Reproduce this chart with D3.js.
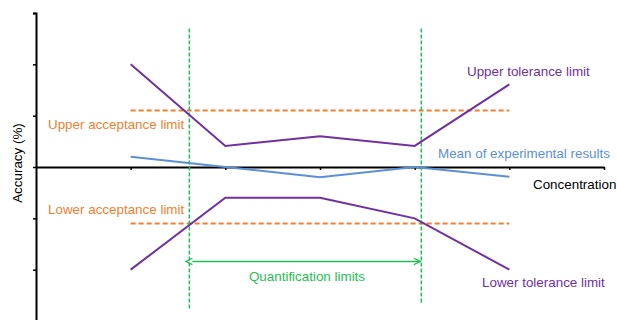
<!DOCTYPE html>
<html><head><meta charset="utf-8">
<script src="https://cdn.jsdelivr.net/npm/d3@7"></script>
<style>body{margin:0;background:#fff}svg{display:block}text{font-family:"Liberation Sans",Arial,sans-serif}</style>
</head><body><svg id="c" width="617" height="320"></svg>
<script>
const concentrations = [1, 2, 3, 4, 5];
const upperTolerance = [2.0, 0.41, 0.6, 0.41, 1.61];
const lowerTolerance = [-2.0, -0.6, -0.6, -1.0, -2.0];
const meanResults = [0.2, 0.0, -0.2, 0.0, -0.19];
const acceptanceLimits = [1.1, -1.1];
const quantificationLimits = [1.62, 4.07];
const xTicks = [1, 2, 3, 4, 5, 6];
const yTicks = [-3, -2, -1, 0, 1, 2, 3];

const C = {purple:"#7030a0", orange:"#f07f30", blue:"#5b90d8", green:"#1fbf55"};
const svg = d3.select("#c");
const x = d3.scaleLinear().domain([0, 6]).range([36, 604]);
const y = d3.scaleLinear().domain([-3, 3]).range([321, 13]);

// axes
const yAxis = svg.append("g").attr("transform", `translate(${x(0)},0)`)
  .call(d3.axisLeft(y).tickValues(yTicks).tickSize(3).tickFormat(""));
yAxis.select(".domain").attr("stroke", "#000").attr("stroke-width", 2);
yAxis.selectAll(".tick line").attr("stroke", "#000").attr("stroke-width", 1.5);

const xAxis = svg.append("g").attr("transform", `translate(0,${y(0)})`)
  .call(d3.axisBottom(x).tickValues(xTicks).tickSize(3).tickSizeOuter(0).tickFormat(""));
xAxis.select(".domain").attr("stroke", "#000").attr("stroke-width", 2);
xAxis.selectAll(".tick line").attr("stroke", "#000").attr("stroke-width", 1.5);

// acceptance limits
acceptanceLimits.forEach(v => {
  svg.append("line").attr("x1", x(concentrations[0])).attr("x2", x(concentrations[4]))
    .attr("y1", y(v)).attr("y2", y(v))
    .attr("stroke", C.orange).attr("stroke-width", 2).attr("stroke-dasharray", "5,3");
});

// quantification limit verticals
const qTop = [2.7, 2.7], qBot = [-2.77, -2.65];
quantificationLimits.forEach((v, i) => {
  svg.append("line").attr("x1", x(v)).attr("x2", x(v))
    .attr("y1", y(qTop[i])).attr("y2", y(qBot[i]))
    .attr("stroke", C.green).attr("stroke-width", 1.5).attr("stroke-dasharray", "4,2");
});

const line = d3.line().x((d, i) => x(concentrations[i])).y(d => y(d));
[[upperTolerance, C.purple], [lowerTolerance, C.purple], [meanResults, C.blue]].forEach(([s, c]) => {
  svg.append("path").datum(s).attr("d", line).attr("fill", "none")
    .attr("stroke", c).attr("stroke-width", 2);
});

// double arrow
const defs = svg.append("defs");
["s", "e"].forEach(k => {
  defs.append("marker").attr("id", "m" + k).attr("viewBox", "0 0 10 10")
    .attr("refX", k === "e" ? 9 : 1).attr("refY", 5)
    .attr("markerWidth", 8).attr("markerHeight", 8).attr("markerUnits", "userSpaceOnUse")
    .attr("orient", "auto-start-reverse")
    .append("path").attr("d", "M1,1 L9,5 L1,9").attr("fill", "none")
    .attr("stroke", C.green).attr("stroke-width", 1.6);
});
const arrowY = y(-1.84);
svg.append("line").attr("x1", x(quantificationLimits[0]) + 3).attr("x2", x(quantificationLimits[1]) - 1)
  .attr("y1", arrowY).attr("y2", arrowY).attr("stroke", C.green).attr("stroke-width", 1.6)
  .attr("marker-start", "url(#ms)").attr("marker-end", "url(#me)");

// labels
const fs = 13.4;
const label = (t, xx, yy, c, anchor = "start") => svg.append("text").text(t)
  .attr("x", xx).attr("y", yy).attr("fill", c).attr("font-size", fs).attr("text-anchor", anchor);
label("Upper acceptance limit", 48, 128.5, C.orange);
label("Lower acceptance limit", 48, 213.5, C.orange);
label("Upper tolerance limit", 467, 75.5, C.purple);
label("Mean of experimental results", 438, 158, C.blue);
label("Concentration", 533, 189, "#000");
label("Lower tolerance limit", 482, 286.5, C.purple);
label("Quantification limits", 307, 280.5, C.green, "middle");
svg.append("text").text("Accuracy (%)").attr("transform", "translate(21.5,163) rotate(-90)")
  .attr("text-anchor", "middle").attr("font-size", fs).attr("fill", "#000");
</script></body></html>
